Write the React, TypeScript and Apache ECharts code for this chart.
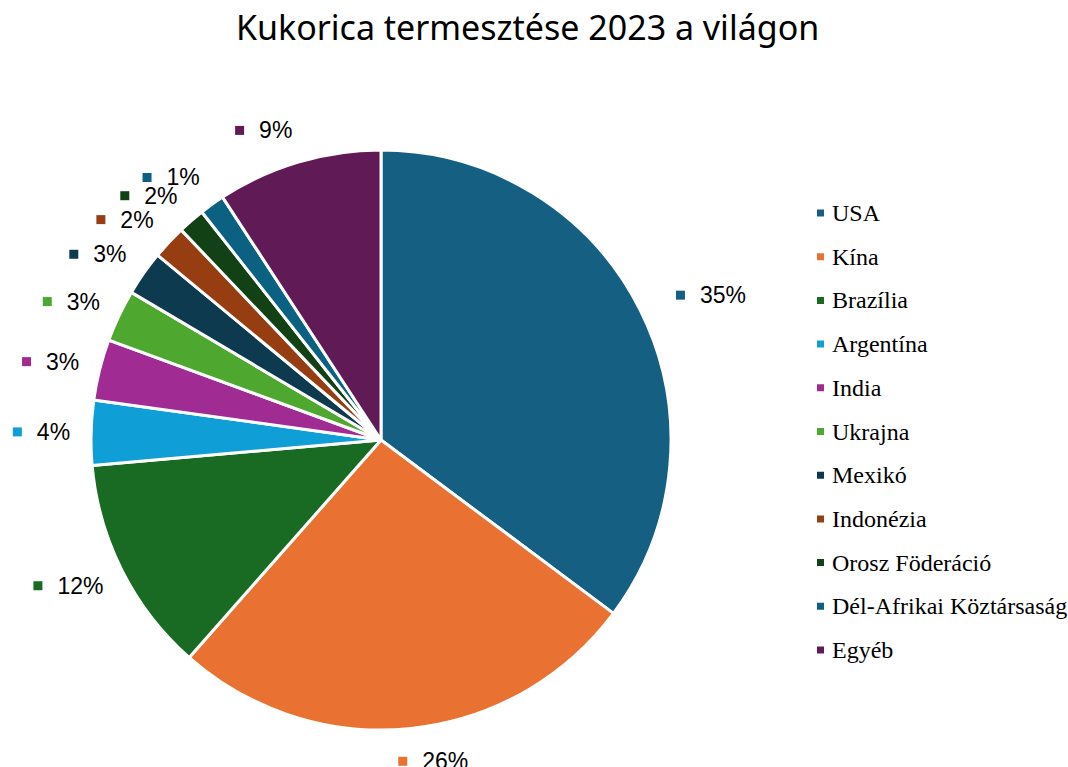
import React, { useEffect, useRef } from "react";
import * as echarts from "echarts";

const categories = [
  "USA",
  "Kína",
  "Brazília",
  "Argentína",
  "India",
  "Ukrajna",
  "Mexikó",
  "Indonézia",
  "Orosz Föderáció",
  "Dél-Afrikai Köztársaság",
  "Egyéb",
];
const shares = [35.2, 26.3, 12.1, 3.6, 3.4, 2.9, 2.5, 1.9, 1.5, 1.4, 9.2];
const colors = [
  "#156082",
  "#E97132",
  "#196B24",
  "#0F9ED5",
  "#A02B93",
  "#4EA72E",
  "#0E3A4F",
  "#963D11",
  "#124116",
  "#0B6182",
  "#601B57",
];
const title = "Kukorica termesztése 2023 a világon";
const CENTER = [381, 440];

export default function App() {
  const ref = useRef<HTMLDivElement>(null);
  useEffect(() => {
    if (!ref.current) return;
    const chart = echarts.init(ref.current, undefined, { renderer: "svg" });
    const rich: Record<string, any> = {
      t: {
        fontFamily: "Liberation Sans, Arial, sans-serif",
        fontSize: 23,
        color: "#000",
        padding: [0, 0, 0, 15],
      },
    };
    colors.forEach((c, i) => {
      rich["m" + i] = { width: 9, height: 9, backgroundColor: c };
    });
    const gapRight = 40;
    const gapLeft = 21;
    const gapY = 33;
    chart.setOption({
      animation: false,
      backgroundColor: "#fff",
      title: {
        text: title,
        left: 231,
        top: 5,
        textStyle: {
          fontFamily: "Noto Sans, sans-serif",
          fontSize: 34,
          fontWeight: "normal",
          color: "#000",
        },
      },
      legend: {
        orient: "vertical",
        left: 815,
        top: 200,
        padding: 0,
        icon: "rect",
        itemWidth: 9,
        itemHeight: 9,
        itemGap: 17.7,
        data: categories,
        textStyle: {
          fontFamily: "Liberation Serif, Times New Roman, serif",
          fontSize: 24,
          lineHeight: 26,
          color: "#000",
          padding: [0, 0, 0, 2],
        },
      },
      series: [
        {
          type: "pie",
          center: CENTER,
          radius: [0, 290],
          startAngle: 90,
          clockwise: true,
          avoidLabelOverlap: true,
          itemStyle: { borderColor: "#fff", borderWidth: 3 },
          label: {
            show: true,
            position: "outside",
            formatter: (p: any) => `{m${p.dataIndex}|}{t|${Math.round(p.percent)}%}`,
            rich,
          },
          labelLine: {
            show: true,
            length: 10,
            length2: 0,
            lineStyle: { opacity: 0, width: 0 },
          },
          labelLayout: (p: any) => {
            const pts = p.labelLinePoints;
            if (!pts) return { hideOverlap: false };
            const p0 = pts[0];
            const vx = p0[0] - CENTER[0];
            const vy = p0[1] - CENTER[1];
            const len = Math.sqrt(vx * vx + vy * vy) || 1;
            const ux = vx / len;
            const uy = vy / len;
            const r = p.labelRect;
            const f = Math.max(-1, Math.min(1, ux * 5));
            const g = ux > 0 ? gapRight : gapLeft;
            const cx = p0[0] + f * (r.width / 2) + ux * g;
            const cy = p0[1] + uy * gapY;
            return {
              hideOverlap: false,
              dx: cx - (r.x + r.width / 2),
              dy: cy - (r.y + r.height / 2),
            };
          },
          emphasis: { disabled: true },
          data: categories.map((name, i) => ({
            name,
            value: shares[i],
            itemStyle: { color: colors[i] },
          })),
        },
      ],
    });
    return () => chart.dispose();
  }, []);
  return (
    <div
      ref={ref}
      style={{ position: "fixed", left: 0, top: 0, width: 1068, height: 767 }}
    />
  );
}
